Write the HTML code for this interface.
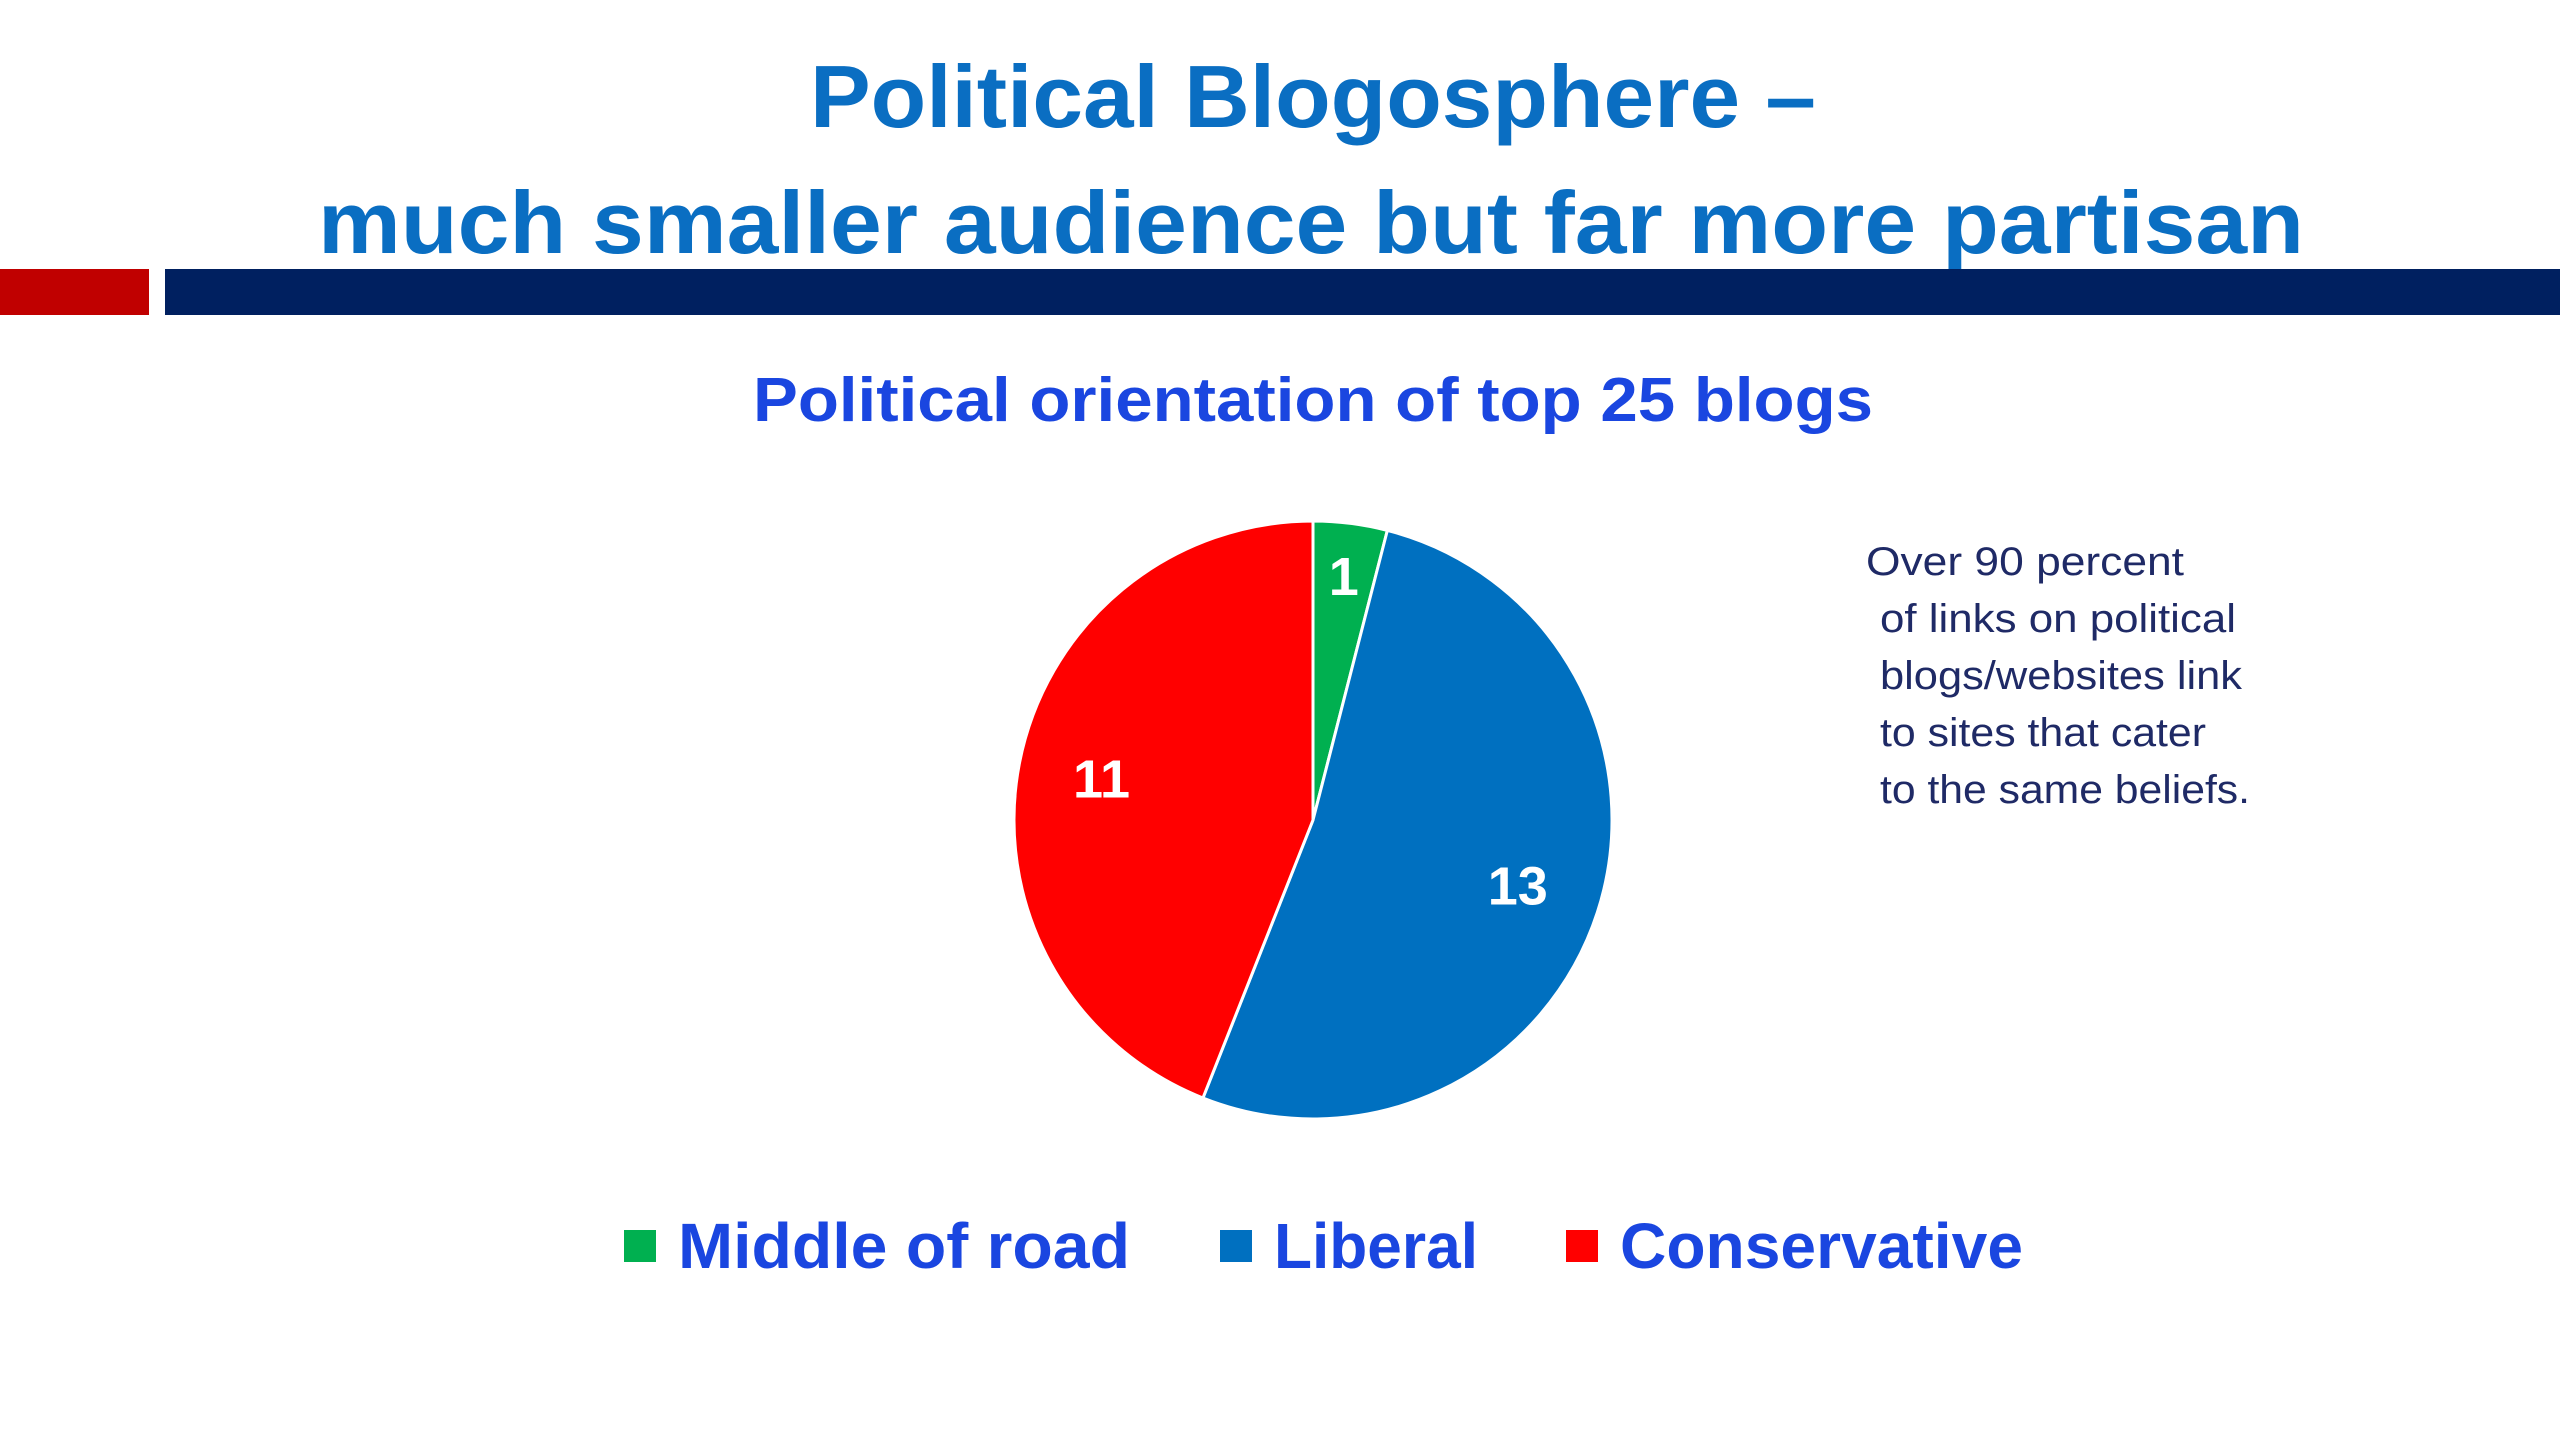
<!DOCTYPE html>
<html><head><meta charset="utf-8"><style>
html,body{margin:0;padding:0;background:#fff;width:2560px;height:1440px;overflow:hidden}
svg{display:block}
text{font-family:"Liberation Sans",sans-serif}
</style></head><body>
<svg id="chart" width="2560" height="1440" viewBox="0 0 2560 1440">
<text x="1313" y="127" text-anchor="middle" font-size="88" font-weight="bold" fill="#0a6ec2" textLength="1006" lengthAdjust="spacingAndGlyphs">Political Blogosphere –</text>
<text x="1311" y="253" text-anchor="middle" font-size="88" font-weight="bold" fill="#0a6ec2" textLength="1986" lengthAdjust="spacingAndGlyphs">much smaller audience but far more partisan</text>
<rect x="0" y="269" width="149" height="46" fill="#c00000"/>
<rect x="165" y="269" width="2395" height="46" fill="#002060"/>
<text x="1313" y="421" text-anchor="middle" font-size="62" font-weight="bold" fill="#1a46e0" textLength="1120" lengthAdjust="spacingAndGlyphs">Political orientation of top 25 blogs</text>
<g id="pie"></g>
<g font-size="40" fill="#1f2a66">
<text x="1866" y="575" textLength="318" lengthAdjust="spacingAndGlyphs">Over 90 percent</text>
<text x="1880" y="632" textLength="356" lengthAdjust="spacingAndGlyphs">of links on political</text>
<text x="1880" y="689" textLength="362" lengthAdjust="spacingAndGlyphs">blogs/websites link</text>
<text x="1880" y="746" textLength="326" lengthAdjust="spacingAndGlyphs">to sites that cater</text>
<text x="1880" y="803" textLength="370" lengthAdjust="spacingAndGlyphs">to the same beliefs.</text>
</g>
<g id="legend"></g>
</svg>
<script>
const categories=["Middle of road","Liberal","Conservative"];
const values=[1,13,11];
const colors=["#00b050","#0070c0","#ff0000"];
const labelPos=[[1339,568],[1530,914],[1086,750]];
const legendX=[[624,678,452],[1220,1274,204],[1566,1620,403]];
const ns="http://www.w3.org/2000/svg";
const cx=1313,cy=820,r=299;
const total=values.reduce((a,b)=>a+b,0);
const pie=document.getElementById('pie');
let a0=0;
values.forEach((v,i)=>{
  const a1=a0+v/total*2*Math.PI;
  const x0=cx+r*Math.sin(a0),y0=cy-r*Math.cos(a0),x1=cx+r*Math.sin(a1),y1=cy-r*Math.cos(a1);
  const p=document.createElementNS(ns,'path');
  p.setAttribute('d',`M${cx},${cy}L${x0},${y0}A${r},${r} 0 ${(a1-a0)>Math.PI?1:0} 1 ${x1},${y1}Z`);
  p.setAttribute('fill',colors[i]);p.setAttribute('stroke','#fff');p.setAttribute('stroke-width','3');
  
  
  pie.appendChild(p);
  const am=(a0+a1)/2, lr=r*0.72;
  const t=document.createElementNS(ns,'text');
  t.setAttribute('x',cx+lr*Math.sin(am));t.setAttribute('y',cy-lr*Math.cos(am)+18);
  if(i===0){t.setAttribute('x',cx+r*0.82*Math.sin(am));t.setAttribute('y',cy-r*0.82*Math.cos(am)+18);}
  t.setAttribute('text-anchor','middle');t.setAttribute('font-size','54');t.setAttribute('font-weight','bold');t.setAttribute('fill','#fff');
  t.textContent=values[i];
  
  
  pie.appendChild(t);
  a0=a1;
});
const lg=document.getElementById('legend');
categories.forEach((c,i)=>{
  const s=document.createElementNS(ns,'rect');
  s.setAttribute('x',legendX[i][0]);s.setAttribute('y',1230);s.setAttribute('width',32);s.setAttribute('height',32);s.setAttribute('fill',colors[i]);
  
  
  lg.appendChild(s);
  const t=document.createElementNS(ns,'text');
  t.setAttribute('x',legendX[i][1]);t.setAttribute('y',1268);t.setAttribute('font-size','64');t.setAttribute('font-weight','bold');t.setAttribute('fill','#1a46e0');
  t.setAttribute('textLength',legendX[i][2]);t.setAttribute('lengthAdjust','spacingAndGlyphs');
  t.textContent=c;
  
  
  lg.appendChild(t);
});
</script>
</body></html>
